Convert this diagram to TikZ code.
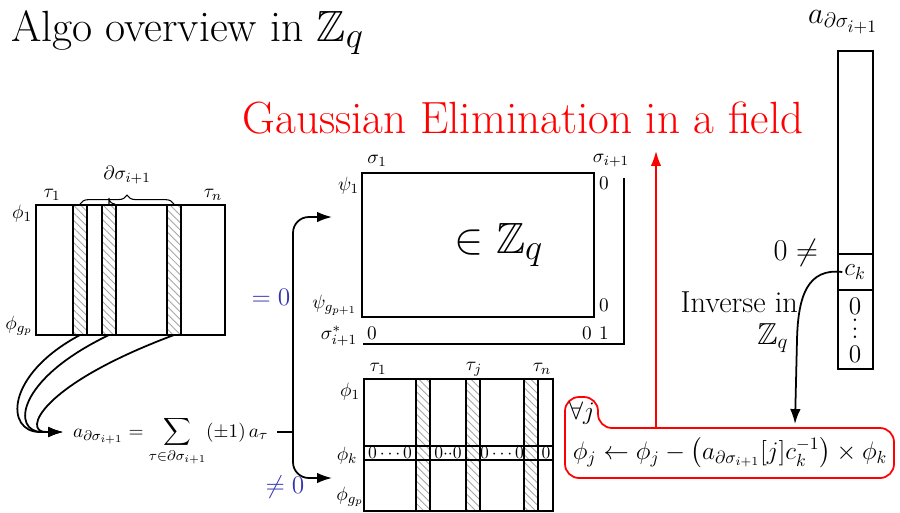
\documentclass[tikz,border=0pt]{standalone}
\usepackage{amsmath,amssymb}
\usepackage{xcolor}
\usetikzlibrary{arrows.meta, positioning, calc, patterns.meta, decorations.pathreplacing}
\definecolor{zeroblue}{RGB}{51,51,178}
\newcommand{\bigttl}{\fontsize{24.88}{30}\selectfont}
\newcommand{\midtxt}{\fontsize{17.28}{21}\selectfont}
\newcommand{\vectxt}{\fontsize{14.4}{17}\selectfont}

\begin{document}
\begin{tikzpicture}[
    x=0.02cm, y=-0.02cm,
    every node/.style={inner sep=1pt},
    box/.style={draw, line width=1.1pt},
    hatchcol/.style={draw, line width=0.8pt, pattern={Lines[angle=-45, distance=3pt, line width=0.5pt]}, pattern color=gray!70},
    lbl/.style={font=\fontsize{10.95}{13}\selectfont},
    rowzero/.style={font=\normalsize},
    arrow/.style={-{Latex[length=8.5pt, width=6pt]}, line width=1pt},
    zero/.style={text=zeroblue, font=\fontsize{14.4}{17}\selectfont}
]
\useasboundingbox (0,0) rectangle (900,512);

% titles
\node[anchor=base west, font=\bigttl] (title) at (9,41) {Algo overview in $\mathbb{Z}_q$};
\node[font=\fontsize{25.7}{30}\selectfont, text=red] (gauss) at (523,118) {Gaussian Elimination in a field};

% left matrix
\foreach \x/\n in {73/1, 102/2, 167/3} {
  \draw[hatchcol] (\x,205) rectangle (\x+14,335);
  \coordinate (col\n) at (\x+7,335);
}
\draw[box] (36,205) rectangle (225,335);
\draw[decorate, decoration={brace, amplitude=5pt}, line width=0.6pt] (80,204) -- (174,204);
\draw[line width=0.6pt] (109,204) -- (109,198) arc[start angle=180, end angle=90, radius=6];
\node[lbl] (bnd) at (127,175) {$\partial\sigma_{i+1}$};
\node[lbl] (lt1) at (52,195) {$\tau_1$};
\node[lbl] (ltn) at (213,195) {$\tau_n$};
\node[lbl] (lp1) at (22,214) {$\phi_1$};
\node[lbl] (lpg) at (19,326) {$\phi_{g_p}$};

% linear combination
\node[anchor=base west, font=\fontsize{10.95}{13}\selectfont] (sum) at (71,437)
  {$a_{\partial\sigma_{i+1}} = \displaystyle\sum_{\tau\in\partial\sigma_{i+1}} (\pm 1)\, a_\tau$};
\coordinate (sumin) at ($(sum.base west)+(-8,-5)$);
\coordinate (sumout) at ($(sum.base east)+(7,-5)$);
\draw[arrow] (col1) .. controls (5,375) and (5,432) .. (40,432) -- (sumin);
\draw[arrow] (col2) .. controls (15,380) and (12,432) .. (42,432) -- (sumin);
\draw[arrow] (col3) .. controls (40,385) and (22,432) .. (46,432) -- (sumin);

% branch
\coordinate (fork) at (293,432);
\coordinate (topin) at (332,217);
\coordinate (botin) at (332,478);
\draw[line width=1pt] (sumout) -- (fork);
\draw[arrow, rounded corners=9pt] (fork) |- (topin);
\draw[arrow, rounded corners=9pt] (fork) |- (botin);
\node[zero] (iszero) at (271,297) {$=0$};
\node[zero] (nonzero) at (285,487) {$\neq 0$};

% top right matrix
\draw[box] (362,173) rectangle (594,317);
\draw[box] (624,178) |- (363,344);
\node[font=\bigttl] (inz) at (499,245) {$\in \mathbb{Z}_q$};
\node[lbl] (ts1) at (377,161) {$\sigma_1$};
\node[lbl] (tsi) at (611,161) {$\sigma_{i+1}$};
\node[lbl, anchor=east] (tp1) at (361,186) {$\psi_1$};
\node[lbl, anchor=east] (tpg) at (359,305) {$\psi_{g_{p+1}}$};
\node[lbl, anchor=east] (tss) at (359,336) {$\sigma^*_{i+1}$};
\node[lbl] (z1) at (604,183) {$0$};
\node[lbl] (z2) at (604,305) {$0$};
\node[lbl] (z3) at (372,333) {$0$};
\node[lbl] (z4) at (587,333) {$0$};
\node[lbl] (one) at (604,333) {$1$};

% bottom matrix
\foreach \x in {416, 466, 524} {
  \draw[hatchcol] (\x,379) rectangle (\x+14,511);
}
\draw[line width=1pt] (364,446) -- (553,446);
\draw[line width=1pt] (364,460) -- (553,460);
\draw[box] (364,379) rectangle (553,511);
\node[rowzero] (r1) at (390,453) {$0\cdots0$};
\node[rowzero, inner sep=0pt] (r2) at (448,453) {$0{\cdot}{\cdot}0$};
\node[rowzero] (r3) at (502,453) {$0\cdots0$};
\node[rowzero] (r4) at (546,453) {$0$};
\node[lbl] (bt1) at (378,369) {$\tau_1$};
\node[lbl] (btj) at (474,369) {$\tau_j$};
\node[lbl] (btn) at (542,369) {$\tau_n$};
\node[lbl] (bp1) at (350,392) {$\phi_1$};
\node[lbl] (bpk) at (347,456) {$\phi_k$};
\node[lbl] (bpg) at (350,497) {$\phi_{g_p}$};

% row update
\draw[red, line width=1pt, rounded corners=8pt] (565,397) -- (598,397) -- (598,428) -- (894,428) -- (894,478) -- (565,478) -- cycle;
\node[font=\Large] (forall) at (582,413) {$\forall j$};
\node[font=\Large] (update) at (730,453)
  {$\phi_j \leftarrow \phi_j - \bigl(a_{\partial\sigma_{i+1}}[j]c_k^{-1}\bigr) \times \phi_k$};
\coordinate (boxtop) at (656,428);
\coordinate (gtip) at (656,151);
\draw[arrow, red] (boxtop) -- (gtip);

% column vector
\draw[box] (838,51) rectangle (873,369);
\draw[box] (838,254) -- (873,254);
\draw[box] (838,290) -- (873,290);
\node[font=\midtxt] (avec) at (843,22) {$a_{\partial\sigma_{i+1}}$};
\node[font=\vectxt] (ck) at (855,272) {$c_k$};
\node[font=\vectxt, inner sep=0pt] (v0) at (855,306) {$0$};
\node[font=\vectxt, inner sep=0pt] (vd) at (855,329) {\vbox{\baselineskip=4.8pt\lineskiplimit=0pt\hbox{.}\hbox{.}\hbox{.}}};
\node[font=\vectxt, inner sep=0pt] (v1) at (855,354) {$0$};
\node[font=\midtxt, anchor=east] (neq) at (820,253) {$0 \neq$};
\node[font=\midtxt, anchor=east] (inv) at (800,302) {Inverse in};
\node[font=\midtxt] (zq) at (773,338) {$\mathbb{Z}_q$};
\coordinate (updin) at (795,424);
\draw[arrow] (ck.west) .. controls (808,268) and (798,295) .. (797,340) -- (updin);
\end{tikzpicture}
\end{document}
